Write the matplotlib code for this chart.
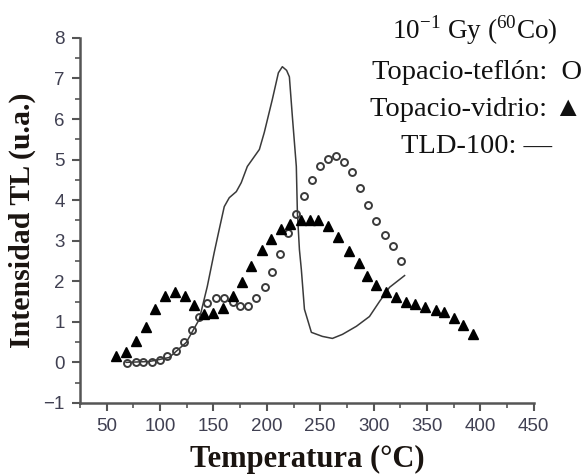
import numpy as np
import matplotlib
matplotlib.use("Agg")
import matplotlib.pyplot as plt
from matplotlib.ticker import MultipleLocator

# Topacio-vidrio (triangles)
vidrio_t = [58.8, 68.2, 77.6, 87, 95.4, 104.8, 114, 123.5, 132, 141.4, 150, 159,
            168, 177, 185.5, 195, 204, 213.5, 222, 232, 240, 248, 257.6, 267,
            276.5, 286, 294, 302.5, 312, 321, 330, 339, 348.5, 358, 365.6, 375,
            384, 393.5]
vidrio_i = [0.15, 0.25, 0.52, 0.88, 1.32, 1.63, 1.73, 1.63, 1.42, 1.2, 1.22, 1.34,
            1.63, 1.97, 2.37, 2.76, 3.05, 3.3, 3.42, 3.52, 3.52, 3.5, 3.35, 3.08,
            2.74, 2.46, 2.14, 1.9, 1.73, 1.6, 1.5, 1.43, 1.36, 1.3, 1.23, 1.1,
            0.91, 0.69]

# Topacio-teflon (open circles)
teflon_t = [69, 77, 84.3, 92.5, 100, 106.8, 115, 122, 130, 136.8, 144, 152.5, 160,
            168, 175, 182, 190, 198, 205, 212.6, 220, 227.6, 235, 242.6, 250, 257,
            265, 272.5, 280, 287.6, 295, 302.5, 310.5, 318, 326]
teflon_i = [-0.02, 0.0, 0.0, 0.02, 0.05, 0.15, 0.27, 0.49, 0.79, 1.13, 1.47, 1.58,
            1.58, 1.48, 1.38, 1.38, 1.58, 1.85, 2.24, 2.68, 3.18, 3.65, 4.11, 4.5,
            4.83, 5.02, 5.1, 4.95, 4.69, 4.3, 3.88, 3.48, 3.14, 2.86, 2.5]

# TLD-100 (line)
tld_t = [68.2, 89.8, 108.5, 124.5, 136.7, 144.2, 150.7, 155.4, 160.1, 164.8, 171.4,
         176, 181.7, 193, 197.6, 205.1, 210.8, 214.5, 218.5, 221.1, 223.9, 227.6,
         228.6, 230.5, 232.3, 235.2, 241.7, 252, 261.4, 270.8, 283.9, 296.1,
         305.5, 314.9, 329]
tld_i = [0.0, 0.02, 0.12, 0.49, 1.06, 1.87, 2.71, 3.28, 3.84, 4.06, 4.21, 4.43,
         4.83, 5.25, 5.67, 6.48, 7.14, 7.29, 7.2, 7.04, 6.06, 4.83, 3.69, 2.78,
         2.29, 1.31, 0.74, 0.64, 0.59, 0.69, 0.89, 1.13, 1.5, 1.85, 2.14]

fig = plt.figure(figsize=(5.84, 4.74), dpi=100)
ax = fig.add_axes([0.137, 0.150, 0.777, 0.770])

ax.plot(tld_t, tld_i, color='#3a3a3a', linewidth=1.1)
ax.plot(teflon_t, teflon_i, 'o', markersize=5, markerfacecolor='none',
        markeredgecolor='#3a3a3a', markeredgewidth=1.4)
ax.plot(vidrio_t, vidrio_i, '^', markersize=7.5, color='black')

ax.set_xlim(25, 450)
ax.set_ylim(-1, 8)
ax.xaxis.set_minor_locator(MultipleLocator(25))
ax.yaxis.set_major_locator(MultipleLocator(1))
ax.yaxis.set_minor_locator(MultipleLocator(0.5))
ax.set_xticks(np.arange(50, 451, 50))

for side in ['top', 'right']:
    ax.spines[side].set_visible(False)
for side in ['left', 'bottom']:
    ax.spines[side].set_color('#555555')
    ax.spines[side].set_linewidth(1.8)

ax.tick_params(which='major', length=6, width=1.5, color='#555555',
               labelsize=13.5, labelcolor='#404052', pad=5)
ax.tick_params(which='minor', length=3.5, width=1.2, color='#555555')
for lab in ax.get_xticklabels() + ax.get_yticklabels():
    lab.set_family('Liberation Sans')

ax.set_ylabel('Intensidad TL (u.a.)', family='Liberation Serif', fontweight='bold',
              fontsize=21.5, color='#1a1410', labelpad=5)
ax.set_xlabel('Temperatura (\u00b0C)', family='Liberation Serif', fontweight='bold',
              fontsize=22, color='#1a1410', labelpad=7)

txt = dict(family=['Liberation Serif', 'DejaVu Sans'], color='#111111',
           transform=fig.transFigure, ha='right', va='center')
fig.text(0.954, 0.937, r'10$^{\mathregular{-1}}$ Gy ($^{\mathregular{60}}$Co)',
         fontsize=19.5, **txt)
fig.text(0.997, 0.848, 'Topacio-teflón:  O', fontsize=20.5, **txt)
fig.text(0.997, 0.768, 'Topacio-vidrio: \u25b2', fontsize=20.5, **txt)
fig.text(0.945, 0.690, 'TLD-100: \u2014', fontsize=20.5, **txt)

fig.savefig('out.png', dpi=100)
